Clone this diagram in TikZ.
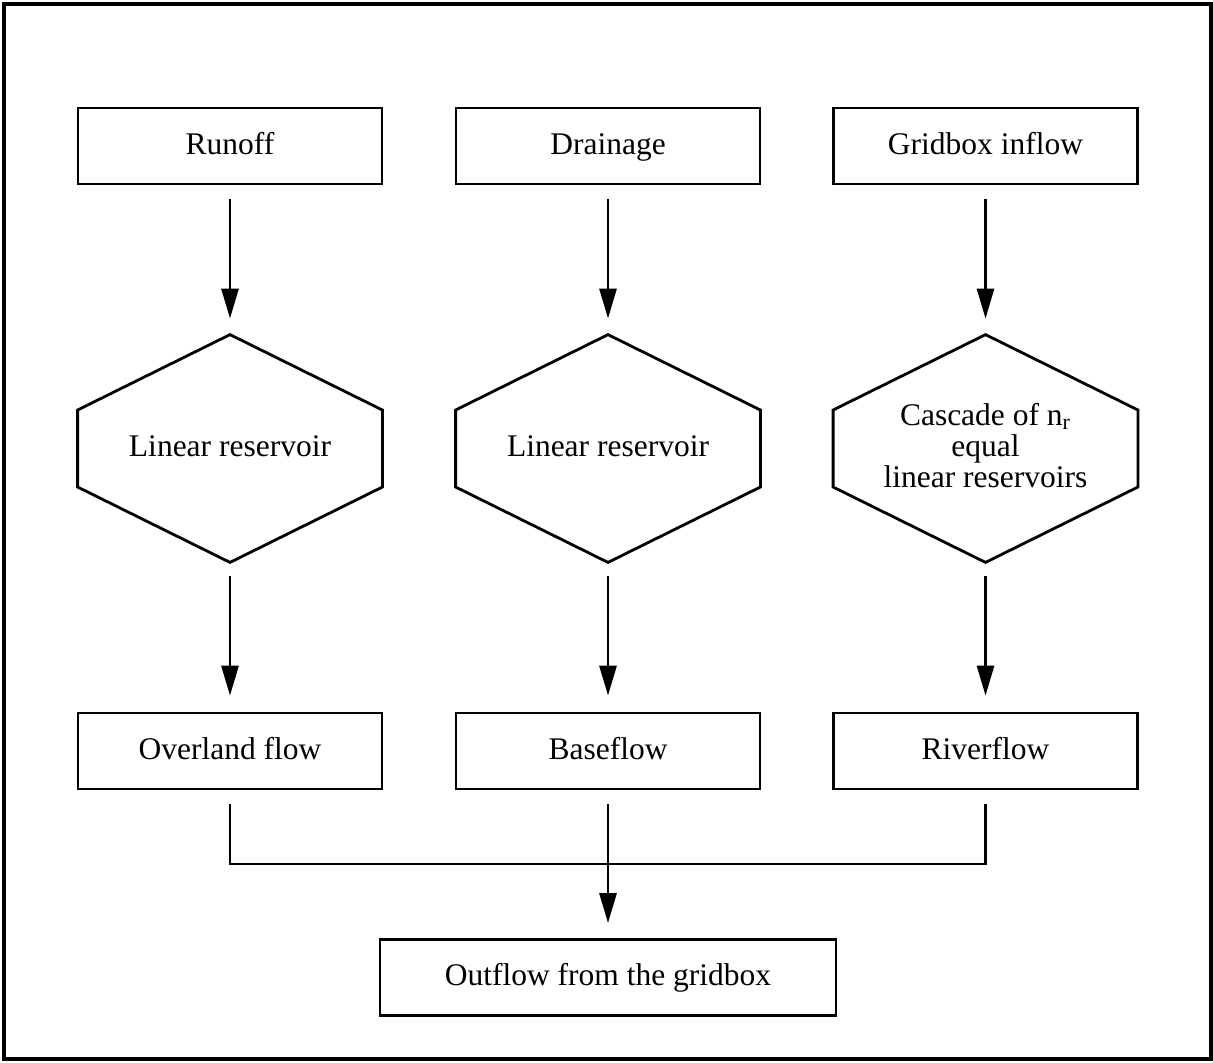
\documentclass[tikz,border=0pt]{standalone}
\usepackage{fontspec}
\setmainfont{Liberation Serif}
\usepackage{tikz}
\usetikzlibrary{arrows.meta}
\usetikzlibrary{calc}

\tikzset{
  lbl/.style={font=\fontsize{15.75}{15.5}\selectfont, align=center, inner sep=0pt, text height=11.5pt, text depth=3.5pt},
  flowbox/.style={lbl, draw, line width=1.4pt, minimum width=152pt, minimum height=38pt},
  resbox/.style={lbl, minimum width=152pt, minimum height=113.5pt},
  flowline/.style={line width=1.4pt, shorten <=7pt, shorten >=8pt, -{Triangle[width=8.5pt,length=15pt]}},
  joinline/.style={line width=1.4pt, shorten <=7pt, shorten >=7pt},
}

\begin{document}
\begin{tikzpicture}[x=0.5pt,y=0.5pt,yscale=-1]
\useasboundingbox (0,0) rectangle (1213,1062);

%Shape: Frame
\draw [line width=1.6pt] (4,4) rectangle (1211,1059);

% Inputs
\node [flowbox] (runoff) at (230,146) {Runoff};
\node [flowbox] (drain) at (608,146) {Drainage};
\node [flowbox] (inflow) at (985.5,146) {Gridbox inflow};

% Reservoirs
\node [resbox] (res1) at (230,448.5) {Linear reservoir};
\node [resbox] (res2) at (608,448.5) {Linear reservoir};
\node [resbox, text height={}, text depth={}] (res3) at (985.5,448.5) {Cascade of n\textsubscript{r}\\equal\\linear reservoirs\vphantom{p}};
\foreach \n in {res1,res2,res3}
  \draw [line width=1.4pt] (\n.north) -- ([yshift=-19.25pt]\n.east) -- ([yshift=19.25pt]\n.east)
    -- (\n.south) -- ([yshift=19.25pt]\n.west) -- ([yshift=-19.25pt]\n.west) -- cycle;

% Outputs
\node [flowbox] (over) at (230,751) {Overland flow};
\node [flowbox] (base) at (608,751) {Baseflow};
\node [flowbox] (river) at (985.5,751) {Riverflow};

\node [flowbox, minimum width=228pt] (out) at (608,977.5) {Outflow from the gridbox};

% Arrows
\draw [flowline] (runoff) -- (res1);
\draw [flowline] (drain) -- (res2);
\draw [flowline] (inflow) -- (res3);
\draw [flowline] (res1) -- (over);
\draw [flowline] (res2) -- (base);
\draw [flowline] (res3) -- (river);

\coordinate (join) at (608,864);
\draw [joinline] (over.south) -- (over.south |- join) -- (river.south |- join) -- (river.south);
\draw [flowline, shorten >=7.5pt] (base) -- (out);
\end{tikzpicture}
\end{document}
